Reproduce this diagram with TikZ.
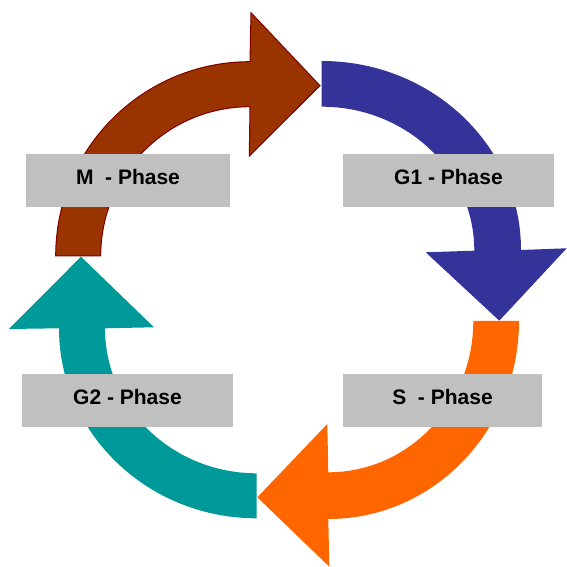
\documentclass[tikz,border=0pt]{standalone}
\usepackage{fontspec}
\setmainfont{Liberation Sans}
\definecolor{mbrown}{HTML}{993300}
\definecolor{mbrownline}{HTML}{800000}
\definecolor{gblue}{HTML}{333399}
\definecolor{sorange}{HTML}{FF6600}
\definecolor{gteal}{HTML}{009999}
\definecolor{boxgray}{HTML}{C0C0C0}
\begin{document}
\begin{tikzpicture}[x=1pt,y=1pt,
  phasebox/.style={fill=boxgray, draw=none, rectangle, inner sep=0pt,
    font=\bfseries\fontsize{21}{25}\selectfont, text height=15pt, text depth=7pt},
  arrowshape/.style={draw=none}]
\useasboundingbox (0,0) rectangle (567,567);
% M phase arrow (brown)
\path[fill=mbrown, draw=mbrownline, line width=1pt, line join=miter]
  (55.7,311) arc[start angle=180, end angle=90, radius=194.3pt]
  -- (251,554.3) -- (320,481.3) -- (249.3,411) -- (250,460.3)
  arc[start angle=90, end angle=180, radius=149.3pt] -- cycle;
% G1 phase arrow (blue)
\path[fill=gblue, arrowshape]
  (321.7,506) arc[start angle=90, end angle=0, x radius=199.3pt, y radius=189pt]
  -- (566.7,318.7) -- (499.3,246.3) -- (425.7,314.7) -- (474.3,316.3)
  arc[start angle=0, end angle=90, x radius=152.6pt, y radius=144pt] -- cycle;
% S phase arrow (orange)
\path[fill=sorange, arrowshape]
  (519,246) arc[start angle=0, end angle=-90, x radius=190.7pt, y radius=198pt]
  -- (329.3,0.3) -- (257.3,69.7) -- (327.3,143) -- (328.3,94.7)
  arc[start angle=-90, end angle=0, x radius=145pt, y radius=151.3pt] -- cycle;
% G2 phase arrow (teal)
\path[fill=gteal, arrowshape]
  (256.7,48.7) arc[start angle=-90, end angle=-180, x radius=197.7pt, y radius=190pt]
  -- (9,238) -- (81,310.3) -- (154,239.7) -- (105,238.7)
  arc[start angle=180, end angle=270, x radius=151.7pt, y radius=145pt] -- cycle;
% labels
\node[phasebox, minimum width=204pt, minimum height=53pt] (m) at (128,386.5) {M\ \ - Phase};
\node[phasebox, minimum width=211pt, minimum height=53pt] (g1) at (448.5,386.5) {G1 - Phase};
\node[phasebox, minimum width=211pt, minimum height=53pt] (g2) at (127.5,166.5) {G2 - Phase};
\node[phasebox, minimum width=199pt, minimum height=53pt] (s) at (442.5,166.5) {S\ \ - Phase};
\end{tikzpicture}
\end{document}
